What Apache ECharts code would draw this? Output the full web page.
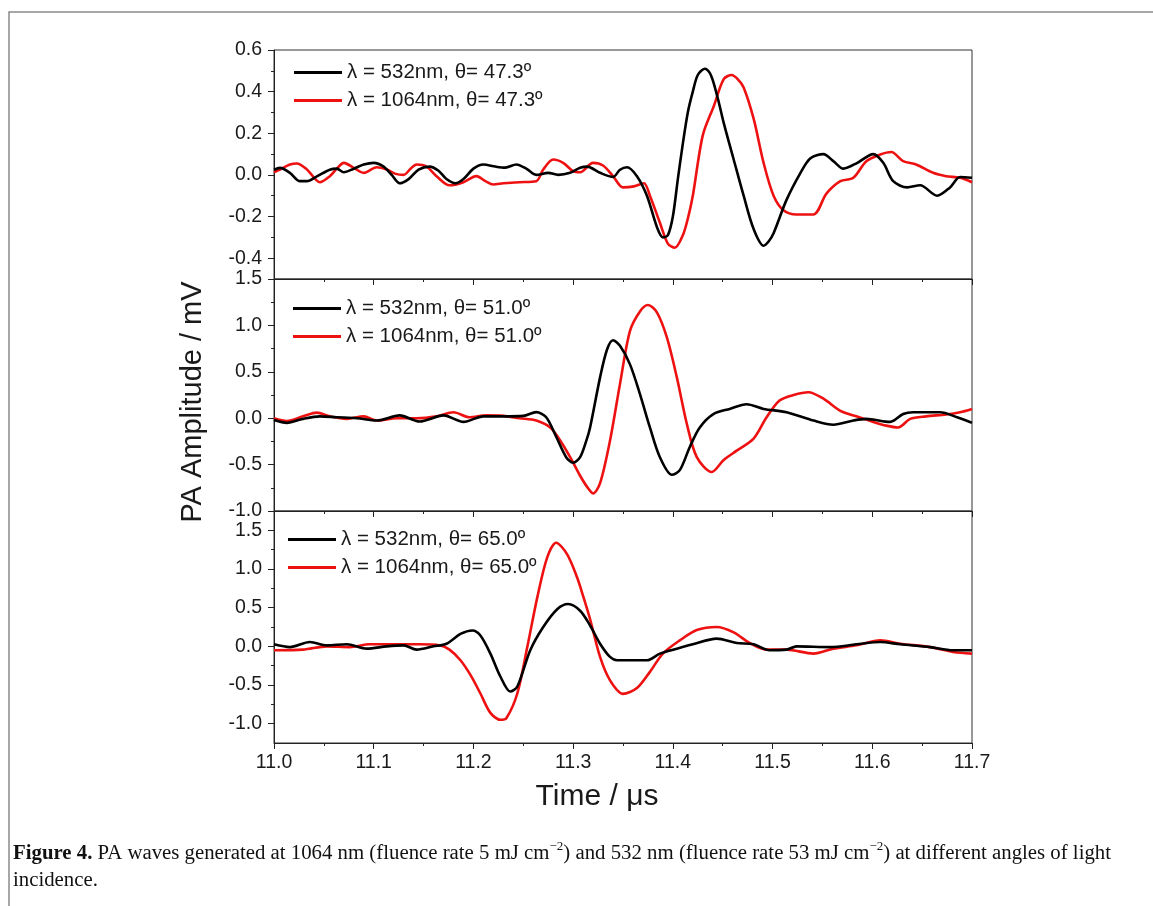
<!DOCTYPE html>
<html>
<head>
<meta charset="UTF-8">
<title>PA waves</title>
<script src="https://cdn.jsdelivr.net/npm/echarts@6/dist/echarts.min.js"></script>
</head>
<body style="margin:0;background:#fff;">
<div id="chart" style="width:1153px;height:906px;"></div>
<script>
// panel 1, theta = 47.3
var t1k = [11.000,11.006,11.016,11.026,11.033,11.043,11.056,11.063,11.070,11.080,11.090,11.100,11.110,11.118,11.126,11.135,11.145,11.156,11.165,11.173,11.182,11.190,11.200,11.210,11.222,11.232,11.243,11.253,11.263,11.275,11.285,11.297,11.307,11.314,11.327,11.340,11.347,11.354,11.364,11.374,11.384,11.390,11.395,11.400,11.405,11.410,11.415,11.420,11.425,11.432,11.437,11.441,11.446,11.451,11.461,11.471,11.481,11.491,11.496,11.501,11.514,11.528,11.538,11.551,11.561,11.571,11.585,11.601,11.611,11.621,11.635,11.648,11.665,11.678,11.688,11.700];
var a1k = [0.025,0.034,0.010,-0.030,-0.030,-0.007,0.025,0.030,0.013,0.030,0.050,0.058,0.040,0.000,-0.040,-0.020,0.025,0.040,0.020,-0.020,-0.040,-0.020,0.030,0.050,0.040,0.035,0.050,0.030,0.000,0.010,0.000,0.010,0.034,0.040,0.010,-0.010,0.025,0.037,-0.006,-0.100,-0.250,-0.300,-0.290,-0.200,-0.020,0.150,0.300,0.400,0.480,0.510,0.490,0.440,0.350,0.250,0.074,-0.100,-0.260,-0.340,-0.320,-0.280,-0.120,0.010,0.080,0.100,0.066,0.030,0.058,0.100,0.058,-0.030,-0.060,-0.050,-0.100,-0.060,-0.010,-0.014];
var t1r = [11.000,11.006,11.016,11.023,11.033,11.046,11.056,11.063,11.070,11.080,11.090,11.103,11.113,11.122,11.130,11.137,11.143,11.153,11.163,11.176,11.190,11.203,11.212,11.220,11.230,11.246,11.263,11.270,11.280,11.290,11.300,11.307,11.320,11.330,11.340,11.350,11.361,11.371,11.377,11.387,11.395,11.402,11.410,11.415,11.420,11.430,11.441,11.451,11.459,11.465,11.471,11.481,11.491,11.501,11.511,11.524,11.541,11.554,11.568,11.581,11.594,11.608,11.619,11.631,11.644,11.661,11.674,11.688,11.700];
var a1r = [0.013,0.026,0.050,0.055,0.026,-0.035,-0.006,0.030,0.058,0.034,0.010,0.037,0.026,0.005,0.000,0.030,0.050,0.040,-0.006,-0.050,-0.035,-0.006,-0.030,-0.046,-0.040,-0.035,-0.030,0.026,0.074,0.058,0.018,0.013,0.058,0.045,-0.006,-0.060,-0.055,-0.040,-0.100,-0.230,-0.330,-0.350,-0.290,-0.210,-0.100,0.190,0.330,0.460,0.480,0.460,0.420,0.270,0.058,-0.100,-0.170,-0.190,-0.190,-0.090,-0.030,-0.014,0.066,0.098,0.110,0.066,0.050,0.010,-0.006,-0.014,-0.035];

// panel 2, theta = 51.0
var t2k = [11.000,11.013,11.029,11.046,11.063,11.083,11.103,11.126,11.146,11.170,11.190,11.210,11.230,11.250,11.263,11.273,11.283,11.293,11.300,11.307,11.313,11.317,11.327,11.334,11.340,11.347,11.357,11.367,11.377,11.387,11.399,11.407,11.417,11.427,11.441,11.457,11.474,11.491,11.514,11.541,11.561,11.581,11.594,11.618,11.631,11.641,11.668,11.685,11.700];
var a2k = [-0.020,-0.050,-0.007,0.020,0.010,0.000,-0.025,0.030,-0.035,0.030,-0.040,0.020,0.020,0.025,0.065,0.010,-0.200,-0.420,-0.480,-0.420,-0.250,-0.100,0.440,0.740,0.840,0.780,0.580,0.260,-0.100,-0.420,-0.610,-0.560,-0.310,-0.100,0.046,0.100,0.150,0.100,0.064,-0.025,-0.070,-0.025,-0.007,-0.040,0.046,0.064,0.064,0.010,-0.050];
var t2r = [11.000,11.013,11.029,11.043,11.056,11.073,11.090,11.103,11.123,11.143,11.163,11.180,11.196,11.213,11.230,11.246,11.263,11.277,11.287,11.297,11.307,11.314,11.320,11.327,11.337,11.347,11.357,11.367,11.375,11.384,11.394,11.404,11.414,11.424,11.439,11.451,11.464,11.481,11.494,11.507,11.521,11.536,11.551,11.568,11.584,11.601,11.614,11.626,11.638,11.654,11.674,11.688,11.700];
var a2r = [0.000,-0.030,0.020,0.060,0.020,-0.007,0.020,-0.025,0.000,0.000,0.020,0.064,0.010,0.030,0.025,0.000,-0.025,-0.100,-0.240,-0.420,-0.620,-0.740,-0.810,-0.700,-0.240,0.370,0.940,1.150,1.220,1.140,0.870,0.440,-0.060,-0.420,-0.580,-0.450,-0.350,-0.220,0.010,0.190,0.250,0.280,0.210,0.080,0.020,-0.040,-0.080,-0.100,-0.007,0.020,0.040,0.064,0.100];

// panel 3, theta = 65.0
var t3k = [11.000,11.016,11.036,11.053,11.073,11.093,11.113,11.130,11.143,11.160,11.173,11.187,11.199,11.207,11.217,11.227,11.237,11.244,11.257,11.270,11.284,11.295,11.307,11.317,11.327,11.337,11.344,11.374,11.387,11.404,11.420,11.444,11.464,11.481,11.497,11.514,11.524,11.558,11.584,11.608,11.628,11.658,11.681,11.700];
var a3k = [0.026,-0.010,0.056,0.013,0.026,-0.030,0.000,0.013,-0.043,0.000,0.034,0.160,0.205,0.140,-0.094,-0.390,-0.585,-0.520,-0.050,0.250,0.480,0.547,0.460,0.270,0.034,-0.137,-0.180,-0.180,-0.094,-0.030,0.026,0.100,0.043,0.026,-0.050,-0.043,0.000,-0.010,0.026,0.056,0.026,-0.010,-0.050,-0.050];
var t3r = [11.000,11.029,11.053,11.076,11.096,11.123,11.146,11.166,11.176,11.187,11.197,11.207,11.217,11.227,11.233,11.244,11.254,11.264,11.274,11.283,11.294,11.304,11.310,11.317,11.327,11.337,11.350,11.364,11.377,11.390,11.407,11.424,11.444,11.461,11.477,11.494,11.514,11.541,11.561,11.584,11.608,11.628,11.658,11.681,11.700];
var a3r = [-0.050,-0.043,0.000,-0.010,0.026,0.026,0.026,0.013,-0.043,-0.180,-0.370,-0.610,-0.860,-0.950,-0.930,-0.610,-0.010,0.630,1.150,1.340,1.190,0.890,0.650,0.350,-0.137,-0.440,-0.615,-0.540,-0.330,-0.094,0.077,0.210,0.250,0.180,0.043,-0.043,-0.043,-0.094,-0.030,0.013,0.077,0.034,-0.010,-0.073,-0.094];

var angles = ['47.3', '51.0', '65.0'];
var yRanges = [[-0.5, 0.6], [-1.0, 1.5], [-1.25, 1.75]];
var yTicks = [[-0.4, -0.2, 0.0, 0.2, 0.4, 0.6], [-1.0, -0.5, 0.0, 0.5, 1.0, 1.5], [-1.0, -0.5, 0.0, 0.5, 1.0, 1.5]];
var yMinor = [[-0.5, -0.3, -0.1, 0.1, 0.3, 0.5], [-0.75, -0.25, 0.25, 0.75, 1.25], [-0.75, -0.25, 0.25, 0.75, 1.25]];
var traces = [[t1k, a1k, t1r, a1r], [t2k, a2k, t2r, a2r], [t3k, a3k, t3r, a3r]];

var chart = echarts.init(document.getElementById('chart'));
var font = 'Liberation Sans, Arial, sans-serif';
var serif = 'Liberation Serif, serif';
var gridBox = [{top: 50, height: 229}, {top: 279, height: 232}, {top: 511, height: 232}];
var legendTop = [62, 298, 529];
var legendLeft = [294, 293, 288];

function pairs(t, a) {
    return t.map(function (x, i) { return [x, a[i]]; });
}

var grids = [], xAxes = [], yAxes = [], series = [], legends = [];
for (var k = 0; k < 3; k++) {
    grids.push({left: 274, width: 698, top: gridBox[k].top, height: gridBox[k].height,
        show: true, borderColor: '#333', borderWidth: 1, backgroundColor: 'transparent'});
    xAxes.push({
        type: 'value', gridIndex: k, min: 11.0, max: 11.7, interval: 0.1,
        axisLine: {onZero: false, lineStyle: {color: '#222', width: 1}},
        axisTick: {inside: false, length: 6, lineStyle: {color: '#222'}},
        minorTick: {show: true, splitNumber: 2, length: 3, lineStyle: {color: '#222'}},
        splitLine: {show: false},
        axisLabel: {show: k === 2, color: '#1a1a1a', fontFamily: font, fontSize: 19.5, margin: 10,
            formatter: function (v) { return v.toFixed(1); }}
    });
    yAxes.push({
        type: 'value', gridIndex: k, position: 'left', min: yRanges[k][0], max: yRanges[k][1],
        axisLine: {show: true, onZero: false, lineStyle: {color: '#222', width: 1}},
        axisTick: {show: true, inside: false, length: 6, customValues: yTicks[k], lineStyle: {color: '#222'}},
        splitLine: {show: false},
        axisLabel: {customValues: yTicks[k], color: '#1a1a1a', fontFamily: font, fontSize: 19.5, margin: 12,
            formatter: function (v) { return v.toFixed(1); }}
    });
    yAxes.push({
        type: 'value', gridIndex: k, position: 'left', min: yRanges[k][0], max: yRanges[k][1],
        axisLine: {show: false, onZero: false},
        axisTick: {show: true, inside: false, length: 3, customValues: yMinor[k], lineStyle: {color: '#222'}},
        splitLine: {show: false},
        axisLabel: {show: false}
    });
    var n532 = 'λ = 532nm, θ= ' + angles[k] + 'º';
    var n1064 = 'λ = 1064nm, θ= ' + angles[k] + 'º';
    var tr = traces[k];
    series.push({
        name: n532, type: 'line', xAxisIndex: k, yAxisIndex: 2 * k, symbol: 'none', smooth: 0.3,
        lineStyle: {color: '#000', width: 2.6}, itemStyle: {color: '#000'}, z: 3,
        data: pairs(tr[0], tr[1])
    });
    series.push({
        name: n1064, type: 'line', xAxisIndex: k, yAxisIndex: 2 * k, symbol: 'none', smooth: 0.3,
        lineStyle: {color: '#ee1111', width: 2.6}, itemStyle: {color: '#ee1111'}, z: 2,
        data: pairs(tr[2], tr[3])
    });
    legends.push({
        data: [n532, n1064], orient: 'vertical', left: legendLeft[k], top: legendTop[k],
        icon: 'rect', itemWidth: 48, itemHeight: 3, itemGap: 7, padding: 0,
        textStyle: {color: '#1a1a1a', fontFamily: font, fontSize: 20.5, lineHeight: 20}
    });
}

var option = {
    animation: false,
    backgroundColor: '#fff',
    grid: grids,
    xAxis: xAxes,
    yAxis: yAxes,
    legend: legends,
    series: series,
    graphic: [
        {type: 'rect', shape: {x: 9, y: 12, width: 1200, height: 1000}, silent: true,
            style: {fill: 'none', stroke: '#8a8a8a', lineWidth: 1.5}},
        {type: 'text', x: 193, y: 402, rotation: Math.PI / 2,
            style: {text: 'PA Amplitude / mV', font: '29px ' + font, fill: '#1a1a1a',
                textAlign: 'center', textVerticalAlign: 'middle'}},
        {type: 'text', x: 597, y: 797,
            style: {text: 'Time / μs', font: '30px ' + font, fill: '#1a1a1a',
                textAlign: 'center', textVerticalAlign: 'middle'}},
        {type: 'text', left: 13, top: 840,
            style: {
                text: '{b|Figure 4.} PA waves generated at 1064 nm (fluence rate 5 mJ cm{s|−2}) and 532 nm (fluence rate 53 mJ cm{s|−2}) at different angles of light\nincidence.',
                fontFamily: serif, fontSize: 20.8, fill: '#111', lineHeight: 27,
                rich: {
                    b: {fontFamily: serif, fontSize: 20.8, fontWeight: 'bold', lineHeight: 27},
                    s: {fontFamily: serif, fontSize: 13, verticalAlign: 'top', lineHeight: 27}
                }
            }}
    ]
};
chart.setOption(option);
</script>
</body>
</html>
